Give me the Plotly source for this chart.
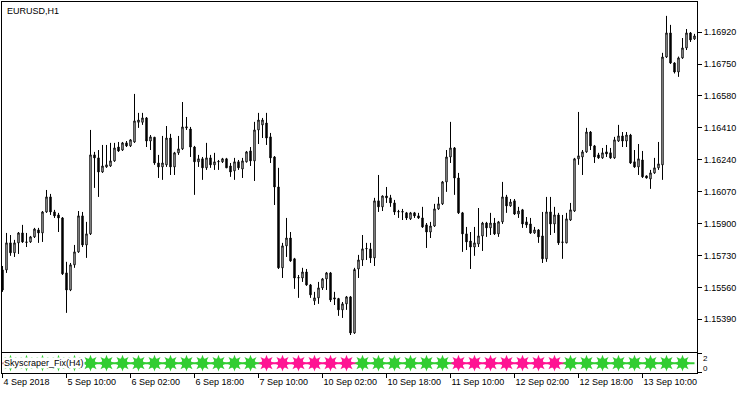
import plotly.graph_objects as go
import pandas as pd

# ---------------- data (EURUSD H1 candles) ----------------
opens = [1.15653, 1.15653, 1.15797, 1.15744, 1.15797, 1.15850, 1.15802, 1.15802, 1.15829, 1.15866,
         1.15850, 1.15962, 1.16042, 1.15962, 1.15946, 1.15930, 1.15637, 1.15546, 1.15680, 1.15749,
         1.15941, 1.15786, 1.15845, 1.16266, 1.16250, 1.16175, 1.16202, 1.16207, 1.16234, 1.16308,
         1.16292, 1.16330, 1.16314, 1.16335, 1.16440, 1.16440, 1.16463, 1.16340, 1.16360, 1.16223,
         1.16202, 1.16213, 1.16356, 1.16202, 1.16277, 1.16298, 1.16410, 1.16404, 1.16308, 1.16229,
         1.16245, 1.16197, 1.16250, 1.16213, 1.16229, 1.16229, 1.16245, 1.16207, 1.16181, 1.16229,
         1.16191, 1.16229, 1.16287, 1.16234, 1.16399, 1.16426, 1.16436, 1.16362, 1.16255, 1.16095,
         1.15664, 1.15781, 1.15823, 1.15712, 1.15610, 1.15610, 1.15642, 1.15573, 1.15488, 1.15504,
         1.15557, 1.15605, 1.15637, 1.15504, 1.15500, 1.15440, 1.15472, 1.15509, 1.15317, 1.15658,
         1.15706, 1.15765, 1.15765, 1.15717, 1.16021, 1.15989, 1.16047, 1.16037, 1.16010, 1.15962,
         1.15964, 1.15957, 1.15925, 1.15957, 1.15941, 1.15930, 1.15893, 1.15855, 1.15887, 1.15978,
         1.16005, 1.16122, 1.16255, 1.16303, 1.16143, 1.15957, 1.15845, 1.15807, 1.15775, 1.15791,
         1.15834, 1.15903, 1.15877, 1.15903, 1.15845, 1.15909, 1.16042, 1.15994, 1.16021, 1.15951,
         1.15973, 1.15909, 1.15898, 1.15850, 1.15866, 1.15834, 1.15712, 1.15962, 1.15898, 1.15946,
         1.15802, 1.15797, 1.15919, 1.15967, 1.16245, 1.16255, 1.16282, 1.16388, 1.16314, 1.16266,
         1.16250, 1.16282, 1.16277, 1.16250, 1.16340, 1.16367, 1.16340, 1.16372, 1.16229, 1.16202,
         1.16239, 1.16154, 1.16138, 1.16170, 1.16197, 1.16213, 1.16788, 1.16916, 1.16756, 1.16708,
         1.16783, 1.16836, 1.16916, 1.16884]
highs = [1.15674, 1.15850, 1.15839, 1.15813, 1.15855, 1.15893, 1.15850, 1.15834, 1.15877, 1.15877,
         1.15967, 1.16079, 1.16058, 1.15973, 1.15957, 1.15935, 1.15696, 1.15690, 1.15786, 1.15967,
         1.15962, 1.15909, 1.16399, 1.16282, 1.16292, 1.16319, 1.16319, 1.16330, 1.16330, 1.16335,
         1.16335, 1.16340, 1.16350, 1.16591, 1.16490, 1.16490, 1.16468, 1.16372, 1.16362, 1.16266,
         1.16367, 1.16420, 1.16378, 1.16282, 1.16367, 1.16548, 1.16468, 1.16415, 1.16314, 1.16266,
         1.16255, 1.16330, 1.16266, 1.16277, 1.16239, 1.16250, 1.16250, 1.16223, 1.16250, 1.16239,
         1.16250, 1.16287, 1.16308, 1.16442, 1.16490, 1.16463, 1.16490, 1.16383, 1.16260, 1.16197,
         1.15797, 1.15930, 1.15855, 1.15717, 1.15626, 1.15664, 1.15658, 1.15578, 1.15536, 1.15589,
         1.15610, 1.15642, 1.15642, 1.15536, 1.15504, 1.15482, 1.15514, 1.15514, 1.15664, 1.15733,
         1.15839, 1.15797, 1.15797, 1.16037, 1.16159, 1.16050, 1.16095, 1.16053, 1.16026, 1.15973,
         1.15978, 1.15962, 1.15962, 1.15962, 1.15957, 1.15989, 1.15903, 1.15909, 1.16005, 1.16042,
         1.16127, 1.16292, 1.16442, 1.16308, 1.16170, 1.15962, 1.15882, 1.15855, 1.15882, 1.15983,
         1.15909, 1.15909, 1.15957, 1.15930, 1.15914, 1.16122, 1.16053, 1.16031, 1.16031, 1.15989,
         1.15978, 1.15935, 1.15930, 1.15882, 1.15871, 1.15962, 1.16042, 1.16042, 1.15989, 1.15957,
         1.15946, 1.15957, 1.16010, 1.16250, 1.16495, 1.16292, 1.16410, 1.16393, 1.16319, 1.16277,
         1.16303, 1.16319, 1.16303, 1.16362, 1.16426, 1.16388, 1.16388, 1.16378, 1.16292, 1.16324,
         1.16287, 1.16157, 1.16186, 1.16250, 1.16335, 1.16810, 1.17007, 1.16959, 1.16760, 1.16790,
         1.16889, 1.16937, 1.16921, 1.16911]
lows = [1.15536, 1.15637, 1.15728, 1.15722, 1.15738, 1.15797, 1.15775, 1.15797, 1.15823, 1.15797,
        1.15802, 1.15957, 1.15946, 1.15930, 1.15855, 1.15626, 1.15424, 1.15540, 1.15664, 1.15744,
        1.15775, 1.15717, 1.15839, 1.16090, 1.16042, 1.16170, 1.16197, 1.16202, 1.16229, 1.16282,
        1.16287, 1.16308, 1.16308, 1.16330, 1.16410, 1.16426, 1.16308, 1.16292, 1.16213, 1.16143,
        1.16133, 1.16202, 1.16159, 1.16159, 1.16266, 1.16292, 1.16399, 1.16255, 1.16053, 1.16202,
        1.16133, 1.16186, 1.16197, 1.16186, 1.16186, 1.16223, 1.16197, 1.16149, 1.16133, 1.16186,
        1.16143, 1.16225, 1.16207, 1.16127, 1.16324, 1.16356, 1.16319, 1.16223, 1.15999, 1.15658,
        1.15610, 1.15722, 1.15696, 1.15552, 1.15504, 1.15589, 1.15568, 1.15504, 1.15466, 1.15472,
        1.15546, 1.15546, 1.15482, 1.15466, 1.15408, 1.15397, 1.15440, 1.15306, 1.15312, 1.15610,
        1.15674, 1.15706, 1.15690, 1.15674, 1.15962, 1.15967, 1.16010, 1.15989, 1.15946, 1.15930,
        1.15919, 1.15919, 1.15919, 1.15930, 1.15925, 1.15877, 1.15770, 1.15823, 1.15882, 1.15973,
        1.15999, 1.16069, 1.16223, 1.16053, 1.15951, 1.15749, 1.15759, 1.15658, 1.15728, 1.15775,
        1.15754, 1.15829, 1.15839, 1.15839, 1.15829, 1.15898, 1.15957, 1.15989, 1.15946, 1.15930,
        1.15877, 1.15877, 1.15845, 1.15845, 1.15797, 1.15690, 1.15696, 1.15839, 1.15850, 1.15786,
        1.15712, 1.15795, 1.15914, 1.15962, 1.16213, 1.16159, 1.16277, 1.16292, 1.16223, 1.16245,
        1.16245, 1.16255, 1.16245, 1.16245, 1.16335, 1.16308, 1.16308, 1.16218, 1.16197, 1.16159,
        1.16143, 1.16140, 1.16085, 1.16165, 1.16186, 1.16133, 1.16783, 1.16751, 1.16700, 1.16682,
        1.16778, 1.16825, 1.16868, 1.16879]
closes = [1.15546, 1.15797, 1.15744, 1.15797, 1.15850, 1.15802, 1.15800, 1.15829, 1.15871, 1.15850,
          1.15962, 1.16042, 1.15962, 1.15941, 1.15930, 1.15632, 1.15546, 1.15680, 1.15749, 1.15941,
          1.15786, 1.15845, 1.16266, 1.16250, 1.16175, 1.16207, 1.16213, 1.16234, 1.16303, 1.16287,
          1.16330, 1.16314, 1.16346, 1.16447, 1.16452, 1.16463, 1.16340, 1.16362, 1.16223, 1.16202,
          1.16223, 1.16356, 1.16202, 1.16277, 1.16298, 1.16415, 1.16415, 1.16308, 1.16229, 1.16245,
          1.16197, 1.16250, 1.16213, 1.16229, 1.16231, 1.16245, 1.16197, 1.16175, 1.16229, 1.16197,
          1.16234, 1.16282, 1.16234, 1.16399, 1.16452, 1.16452, 1.16356, 1.16250, 1.16095, 1.15664,
          1.15781, 1.15823, 1.15701, 1.15610, 1.15612, 1.15642, 1.15573, 1.15520, 1.15504, 1.15557,
          1.15605, 1.15637, 1.15493, 1.15498, 1.15440, 1.15472, 1.15509, 1.15317, 1.15655, 1.15706,
          1.15765, 1.15767, 1.15717, 1.16021, 1.15989, 1.16047, 1.16037, 1.16010, 1.15962, 1.15964,
          1.15962, 1.15930, 1.15957, 1.15941, 1.15930, 1.15882, 1.15855, 1.15887, 1.15978, 1.16005,
          1.16122, 1.16255, 1.16303, 1.16143, 1.15957, 1.15845, 1.15802, 1.15775, 1.15797, 1.15834,
          1.15903, 1.15877, 1.15903, 1.15845, 1.15909, 1.16042, 1.15994, 1.16015, 1.15951, 1.15967,
          1.15898, 1.15893, 1.15850, 1.15866, 1.15829, 1.15712, 1.15962, 1.15898, 1.15946, 1.15797,
          1.15800, 1.15925, 1.15973, 1.16245, 1.16261, 1.16282, 1.16388, 1.16314, 1.16255, 1.16250,
          1.16277, 1.16271, 1.16250, 1.16346, 1.16367, 1.16340, 1.16372, 1.16223, 1.16202, 1.16245,
          1.16149, 1.16143, 1.16170, 1.16197, 1.16218, 1.16788, 1.16916, 1.16756, 1.16708, 1.16783,
          1.16836, 1.16916, 1.16879, 1.16900]

first_bar = "2018-09-04 18:00"
last_bar = "2018-09-13 23:00"

tick_times = ["2018-09-04 18:00", "2018-09-05 10:00", "2018-09-06 02:00", "2018-09-06 18:00",
              "2018-09-07 10:00", "2018-09-10 02:00", "2018-09-10 18:00", "2018-09-11 10:00",
              "2018-09-12 02:00", "2018-09-12 18:00", "2018-09-13 10:00"]
tick_labels = ["4 Sep 2018", "5 Sep 10:00", "6 Sep 02:00", "6 Sep 18:00", "7 Sep 10:00",
               "10 Sep 02:00", "10 Sep 18:00", "11 Sep 10:00", "12 Sep 02:00", "12 Sep 18:00",
               "13 Sep 10:00"]

price_ticks = [1.15390, 1.15560, 1.15730, 1.15900, 1.16070, 1.16240, 1.16410, 1.16580, 1.16750, 1.16920]
price_range = [1.15217, 1.17081]

# Skyscraper_Fix(H4) trend of each H4 bar (first entry: the H4 bar already running at chart start)
sky_trend = [-1,
             1, 1, 1, 1, 1, 1, 1, 1, 1, 1, 1, 1, 1, 1, 1, 1,
             -1, -1, -1, -1, -1, -1,
             1, 1, 1, 1, 1, 1,
             -1, -1, -1, -1, -1, -1, -1,
             1, 1, 1, 1, 1, 1, 1, 1]
sky_value = 1
sky_scale = [0, 2]
UP_COLOR = "#32CD32"
DN_COLOR = "#FF1493"

# ---------------- build ----------------
times = [t for t in pd.date_range(first_bar, last_bar, freq="h") if t.weekday() < 5]
n = len(times)
xs = list(range(n))
pos = {t: i for i, t in enumerate(times)}
tickvals = [pos[pd.Timestamp(t)] for t in tick_times]

# H4 block index of every H1 bar
block = []
b = 0
for i, t in enumerate(times):
    if i > 0 and t.hour % 4 == 0:
        b += 1
    block.append(b)
bar_trend = [sky_trend[v] for v in block]
star_x = [i for i, t in enumerate(times) if t.hour % 4 == 0]
star_col = [UP_COLOR if bar_trend[i] > 0 else DN_COLOR for i in star_x]

# colored line runs
line_x = {1: [], -1: []}
line_y = {1: [], -1: []}
start = 0
for i in range(1, n + 1):
    if i == n or bar_trend[i] != bar_trend[start]:
        tr = bar_trend[start]
        a = max(start - 1, 0)
        line_x[tr] += [a, i - 1, None]
        line_y[tr] += [sky_value, sky_value, None]
        start = i

fig = go.Figure()
fig.add_trace(go.Candlestick(
    x=xs, open=opens, high=highs, low=lows, close=closes,
    increasing=dict(line=dict(color="black", width=1), fillcolor="white"),
    decreasing=dict(line=dict(color="black", width=1), fillcolor="black"),
    whiskerwidth=0, hoverinfo="skip", xaxis="x", yaxis="y"))

for tr, col in ((1, UP_COLOR), (-1, DN_COLOR)):
    fig.add_trace(go.Scatter(x=line_x[tr], y=line_y[tr], mode="lines",
                             line=dict(color=col, width=2), xaxis="x2", yaxis="y2",
                             hoverinfo="skip"))

fig.add_trace(go.Scatter(x=star_x, y=[sky_value] * len(star_x), mode="markers",
                         marker=dict(symbol="star-diamond", size=12, color=star_col, line=dict(width=0)),
                         xaxis="x2", yaxis="y2", hoverinfo="skip"))
fig.add_trace(go.Scatter(x=star_x, y=[sky_value] * len(star_x), mode="markers",
                         marker=dict(symbol="star-square", size=11, color=star_col, line=dict(width=0)),
                         xaxis="x2", yaxis="y2", hoverinfo="skip"))

FONT = dict(family="Liberation Sans, Arial, sans-serif", size=9, color="black")
axis_common = dict(showline=True, mirror=True, linecolor="black", linewidth=1,
                   showgrid=False, zeroline=False, fixedrange=True)
x_range = [-0.125, n - 0.375]

fig.update_layout(
    width=750, height=394,
    margin=dict(l=2, r=53, t=2, b=21),
    paper_bgcolor="white", plot_bgcolor="white",
    showlegend=False, font=FONT, boxgap=0.5,
    xaxis=dict(domain=[0, 1], range=x_range, anchor="y", ticks="", showticklabels=False,
               rangeslider=dict(visible=False), **axis_common),
    xaxis2=dict(domain=[0, 1], range=x_range, anchor="y2", matches="x",
                tickvals=tickvals, ticktext=tick_labels, ticks="outside", ticklen=4,
                tickcolor="black", ticklabelposition="outside right", tickfont=FONT,
                **axis_common),
    yaxis=dict(domain=[0.0574, 1], range=price_range, side="right", anchor="x",
               tickvals=price_ticks, ticktext=[f"{v:.5f}" for v in price_ticks],
               ticks="outside", ticklen=4, tickcolor="black", tickfont=FONT, **axis_common),
    yaxis2=dict(domain=[0, 0.0531], range=sky_scale, side="right", anchor="x2",
                tickvals=sky_scale, showticklabels=False, ticks="outside", ticklen=4,
                tickcolor="black", **axis_common),
    annotations=[
        dict(text="EURUSD,H1", xref="paper", yref="paper", x=0, y=1, xanchor="left",
             yanchor="top", xshift=3, yshift=-2, showarrow=False, font=FONT),
        dict(text="Skyscraper_Fix(H4)", xref="paper", yref="y2", x=0, y=sky_value,
             xanchor="left", yanchor="middle", xshift=1, showarrow=False, font=FONT,
             bgcolor="white", borderpad=0),
        dict(text=f"{sky_scale[1]}<br>{sky_scale[0]}", xref="paper", yref="y2", x=1,
             y=sum(sky_scale) / 2, xanchor="left", yanchor="middle", align="left",
             xshift=5, showarrow=False, borderpad=0,
             font=dict(family="Liberation Sans, Arial, sans-serif", size=8, color="black")),
    ],
)

fig.write_html("out.html")
